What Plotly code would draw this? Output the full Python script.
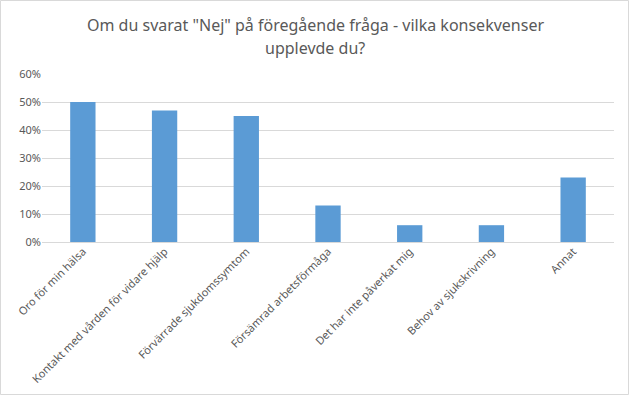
import plotly.graph_objects as go

categories = [
    "Oro för min hälsa",
    "Kontakt med vården för vidare hjälp",
    "Förvärrade sjukdomssymtom",
    "Försämrad arbetsförmåga",
    "Det har inte påverkat mig",
    "Behov av sjukskrivning",
    "Annat",
]
values = [0.50, 0.47, 0.45, 0.13, 0.06, 0.06, 0.23]
y_ticks = [0, 0.1, 0.2, 0.3, 0.4, 0.5, 0.6]
y_tick_labels = ["0%", "10%", "20%", "30%", "40%", "50%", "60%"]
title_lines = ['Om du svarat "Nej" på föregående fråga - vilka konsekvenser', "upplevde du?"]

W, H = 630, 396
L, R, T, B = 42, 16, 74, 154

fig = go.Figure(
    go.Bar(
        x=categories,
        y=values,
        marker=dict(color="#5B9BD5", line=dict(width=0)),
        width=0.31,
    )
)

pw = W - L - R
ph = H - T - B


def px_to_paper_y(py):
    return (H - B - py) / ph


def px_to_paper_x(px):
    return (px - L) / pw


fig.update_layout(
    width=W,
    height=H,
    margin=dict(l=L, r=R, t=T, b=B, autoexpand=False),
    paper_bgcolor="white",
    plot_bgcolor="white",
    showlegend=False,
    font=dict(family="Noto Sans, Open Sans, sans-serif", color="#595959", size=11),
    xaxis=dict(
        tickangle=-45,
        showgrid=False,
        showline=False,
        ticks="",
        automargin=False,
        tickfont=dict(size=11, color="#595959"),
    ),
    yaxis=dict(
        range=[0, 0.6],
        tickvals=y_ticks,
        ticktext=y_tick_labels,
        showgrid=True,
        gridcolor="#D9D9D9",
        gridwidth=1,
        zeroline=True,
        zerolinecolor="#D9D9D9",
        zerolinewidth=1,
        showline=False,
        ticks="",
        automargin=False,
        tickfont=dict(size=11, color="#595959"),
    ),
    annotations=[
        dict(
            text=title_lines[0],
            xref="paper",
            yref="paper",
            x=px_to_paper_x(W / 2),
            y=px_to_paper_y(25),
            xanchor="center",
            yanchor="middle",
            showarrow=False,
            font=dict(size=16, color="#595959"),
        ),
        dict(
            text=title_lines[1],
            xref="paper",
            yref="paper",
            x=px_to_paper_x(W / 2),
            y=px_to_paper_y(48),
            xanchor="center",
            yanchor="middle",
            showarrow=False,
            font=dict(size=16, color="#595959"),
        ),
    ],
    shapes=[
        dict(
            type="rect",
            xref="paper",
            yref="paper",
            x0=px_to_paper_x(0.5),
            x1=px_to_paper_x(W - 1.5),
            y0=px_to_paper_y(H - 1.5),
            y1=px_to_paper_y(0.5),
            line=dict(color="#D9D9D9", width=1),
            fillcolor="rgba(0,0,0,0)",
            layer="above",
        )
    ],
)

fig.write_html(
    "out.html",
    config={"displayModeBar": False},
    post_script="document.body.style.margin='0';document.body.style.overflow='hidden';",
)
